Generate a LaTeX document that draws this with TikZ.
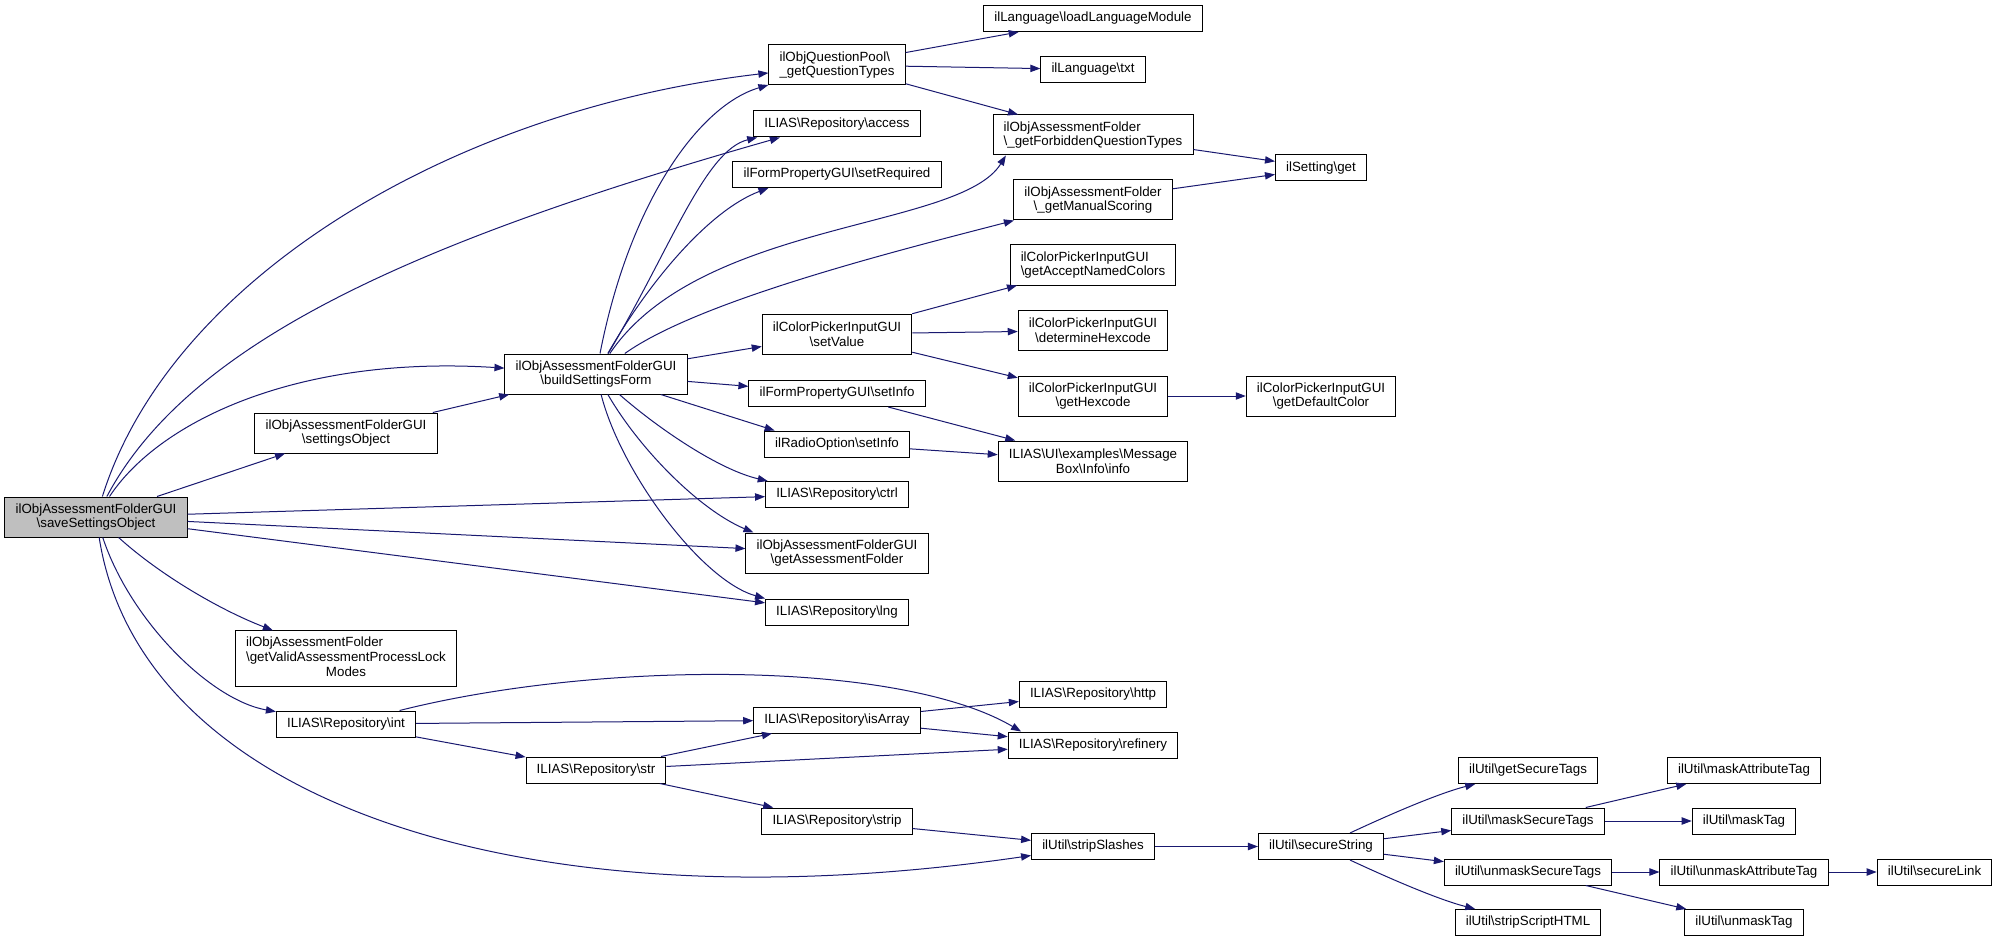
\documentclass[tikz,border=0pt]{standalone}
\usepackage{fontspec}
\setmainfont{Liberation Sans}
\usetikzlibrary{arrows.meta}
\definecolor{edgeblue}{HTML}{191970}
\newcommand{\bsl}{\textbackslash}

\begin{document}
\begin{tikzpicture}[x = 0.75pt, y = -0.75pt,
  fbase/.style = {draw = black, line width = 0.75pt, fill = white, font = \fontsize{10}{11}\selectfont, inner xsep = 8pt, inner ysep = 4.25pt},
  func/.style = {fbase, text height = 7.5pt, text depth = 2.5pt, inner ysep = 4.75pt},
  func2/.style = {fbase, align = center, minimum height = 30pt},
  func2l/.style = {fbase, align = left, minimum height = 30pt},
  call/.style = {draw = edgeblue, line width = 0.75pt, -{Triangle[length = 7.5pt, width = 5.5pt]}}]
\fill[white] (0,0) rectangle (1997,941);

\node[func2, fill = black!25] (save) at (96,517) {ilObjAssessmentFolderGUI\\\bsl saveSettingsObject};
\node[func2] (sobj) at (346,433) {ilObjAssessmentFolderGUI\\\bsl settingsObject};
\node[fbase] (lockmodes) at (346,658.5) {\begin{tabular}{@{}l@{}}ilObjAssessmentFolder\\\bsl getValidAssessmentProcessLock\\\multicolumn{1}{@{}c@{}}{Modes}\end{tabular}};
\node[func] (int) at (346,724) {ILIAS\bsl Repository\bsl int};
\node[func2] (build) at (596,374) {ilObjAssessmentFolderGUI\\\bsl buildSettingsForm};
\node[func] (str) at (596,770) {ILIAS\bsl Repository\bsl str};

\node[func2l] (qtypes) at (837,65) {ilObjQuestionPool\bsl\\\_getQuestionTypes};
\node[func] (access) at (837,124) {ILIAS\bsl Repository\bsl access};
\node[func] (setreq) at (837,174.5) {ilFormPropertyGUI\bsl setRequired};
\node[func2] (setvalue) at (837,334) {ilColorPickerInputGUI\\\bsl setValue};
\node[func] (forminfo) at (837,393.5) {ilFormPropertyGUI\bsl setInfo};
\node[func] (radioinfo) at (837,444) {ilRadioOption\bsl setInfo};
\node[func] (ctrl) at (837,494.5) {ILIAS\bsl Repository\bsl ctrl};
\node[func2] (getfolder) at (837,553) {ilObjAssessmentFolderGUI\\\bsl getAssessmentFolder};
\node[func] (lng) at (837,612) {ILIAS\bsl Repository\bsl lng};
\node[func] (isarray) at (837,720) {ILIAS\bsl Repository\bsl isArray};
\node[func] (strip) at (837,821) {ILIAS\bsl Repository\bsl strip};

\node[func] (loadmod) at (1093,18.5) {ilLanguage\bsl loadLanguageModule};
\node[func] (txt) at (1093,69.5) {ilLanguage\bsl txt};
\node[func2l] (forbid) at (1093,135) {ilObjAssessmentFolder\\\bsl\_getForbiddenQuestionTypes};
\node[func2] (manual) at (1093,200) {ilObjAssessmentFolder\\\bsl\_getManualScoring};
\node[func2l] (named) at (1093,265) {ilColorPickerInputGUI\\\bsl getAcceptNamedColors};
\node[func2] (determine) at (1093,330.5) {ilColorPickerInputGUI\\\bsl determineHexcode};
\node[func2] (hexcode) at (1093,396) {ilColorPickerInputGUI\\\bsl getHexcode};
\node[func2] (msgbox) at (1093,461) {ILIAS\bsl UI\bsl examples\bsl Message\\Box\bsl Info\bsl info};
\node[func] (http) at (1093,694) {ILIAS\bsl Repository\bsl http};
\node[func] (refinery) at (1093,745) {ILIAS\bsl Repository\bsl refinery};
\node[func] (stripsl) at (1093,846.5) {ilUtil\bsl stripSlashes};

\node[func] (setget) at (1321,168) {ilSetting\bsl get};
\node[func2] (defcolor) at (1321,396) {ilColorPickerInputGUI\\\bsl getDefaultColor};
\node[func] (securestr) at (1321,846.5) {ilUtil\bsl secureString};

\node[func] (securetags) at (1528,770.5) {ilUtil\bsl getSecureTags};
\node[func] (masksec) at (1528,821) {ilUtil\bsl maskSecureTags};
\node[func] (unmasksec) at (1528,872) {ilUtil\bsl unmaskSecureTags};
\node[func] (stripscript) at (1528,922.5) {ilUtil\bsl stripScriptHTML};
\node[func] (maskattr) at (1744,770.5) {ilUtil\bsl maskAttributeTag};
\node[func] (masktag) at (1744,821) {ilUtil\bsl maskTag};
\node[func] (unmaskattr) at (1744,872) {ilUtil\bsl unmaskAttributeTag};
\node[func] (unmasktag) at (1744,922.5) {ilUtil\bsl unmaskTag};
\node[func] (securelink) at (1934.5,872) {ilUtil\bsl secureLink};

\draw[call] (save) .. controls (170,280) and (450,110) .. (qtypes);
\draw[call] (save) .. controls (190,340) and (420,240) .. ([xshift = 20pt]access.south west);
\draw[call] (save) .. controls (160,420) and (300,355) .. (build);
\draw[call] (save) -- (sobj);
\draw[call] (save) -- (ctrl);
\draw[call] (save) -- (getfolder);
\draw[call] (save) -- (lng);
\draw[call] (save) .. controls (160,575) and (220,610) .. (lockmodes);
\draw[call] (save) .. controls (130,620) and (210,700) .. (int);
\draw[call] (save) .. controls (140,800) and (520,930) .. (stripsl);
\draw[call] (sobj) -- (build);

\draw[call] (build) .. controls (630,200) and (700,105) .. (qtypes);
\draw[call] (build) .. controls (670,250) and (705,150) .. ([xshift = 3pt]access.south west);
\draw[call] (build) .. controls (650,280) and (710,210) .. ([xshift = 27pt]setreq.south west);
\draw[call] (build) .. controls (700,220) and (960,230) .. ([xshift = 10pt]forbid.south west);
\draw[call] (build) .. controls (700,300) and (900,250) .. (manual);
\draw[call] (build) -- (setvalue);
\draw[call] (build) -- (forminfo);
\draw[call] (build) -- ([xshift = 8pt]radioinfo.north west);
\draw[call] (build) .. controls (660,430) and (720,470) .. ([xshift = 2pt]ctrl.north west);
\draw[call] (build) .. controls (640,450) and (700,510) .. ([xshift = 6pt]getfolder.north west);
\draw[call] (build) .. controls (620,470) and (700,580) .. (lng.north west);

\draw[call] (qtypes) -- (loadmod);
\draw[call] (qtypes) -- (txt);
\draw[call] (qtypes) -- (forbid);
\draw[call] (forbid) -- (setget);
\draw[call] (manual) -- (setget);
\draw[call] (setvalue) -- (named);
\draw[call] (setvalue) -- (determine);
\draw[call] (setvalue) -- (hexcode);
\draw[call] (hexcode) -- (defcolor);
\draw[call] (forminfo) -- (msgbox);
\draw[call] (radioinfo) -- (msgbox);

\draw[call] (int) .. controls (600,660) and (900,660) .. ([xshift = 10pt]refinery.north west);
\draw[call] (int) -- (isarray);
\draw[call] (int) -- (str);
\draw[call] (str) -- (isarray);
\draw[call] (str) -- (refinery);
\draw[call] (str) -- (strip);
\draw[call] (isarray) -- (http);
\draw[call] (isarray) -- (refinery);
\draw[call] (strip) -- (stripsl);
\draw[call] (stripsl) -- (securestr);

\draw[call] (securestr) .. controls (1395,812) and (1440,793) .. (securetags);
\draw[call] (securestr) -- (masksec);
\draw[call] (securestr) -- (unmasksec);
\draw[call] (securestr) .. controls (1395,881) and (1440,900) .. (stripscript);
\draw[call] (masksec) -- (maskattr);
\draw[call] (masksec) -- (masktag);
\draw[call] (unmasksec) -- (unmaskattr);
\draw[call] (unmasksec) -- (unmasktag);
\draw[call] (unmaskattr) -- (securelink);
\end{tikzpicture}
\end{document}
